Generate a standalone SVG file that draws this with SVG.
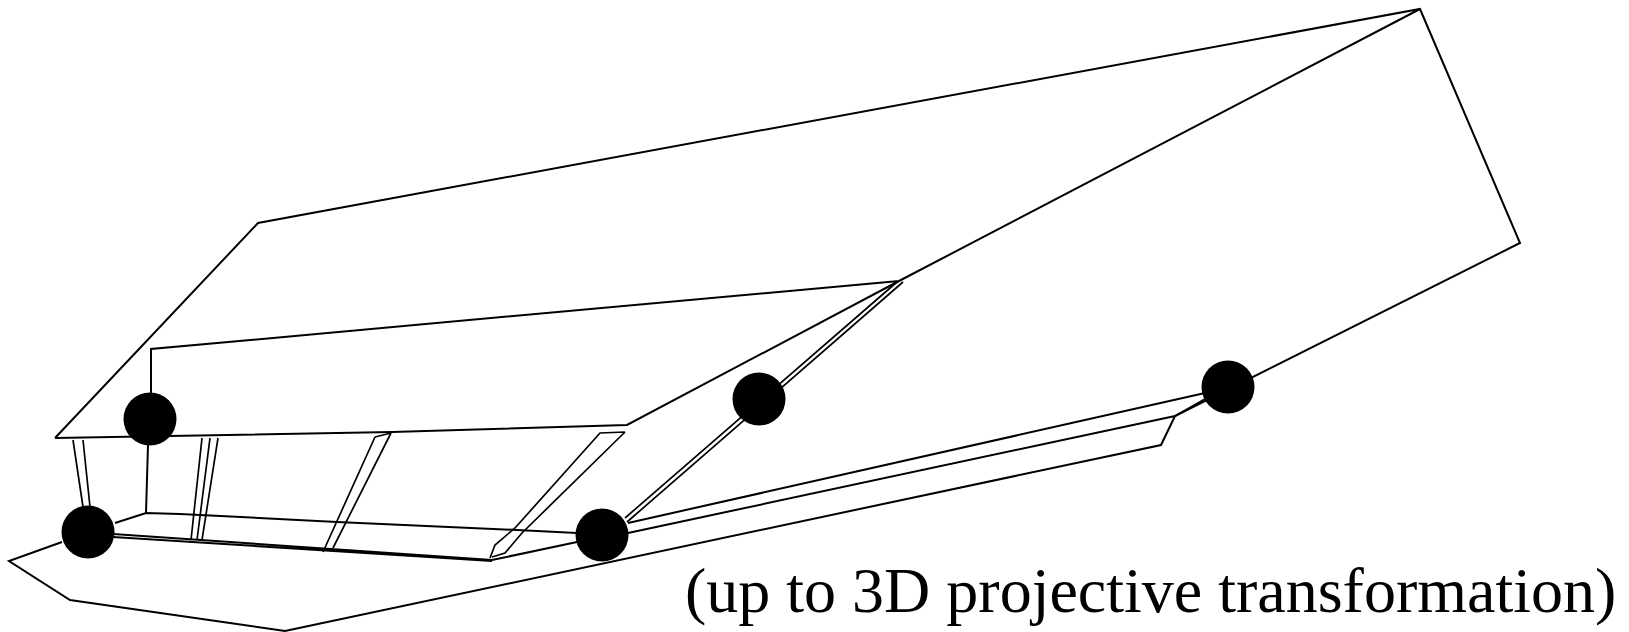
<svg xmlns="http://www.w3.org/2000/svg" width="1629" height="632" viewBox="0 0 1629 632">
<style>
.l{fill:none;stroke:#000;stroke-width:2;stroke-linejoin:miter}
.t{stroke-width:1.7}
.d{fill:#000}
text{font-family:"Liberation Serif","Times New Roman",serif;font-size:64px;fill:#000}
</style>
<rect width="1629" height="632" fill="#fff"/>
<g id="connectors">
<path class="l" d="M55 438L258 223L1420 9L1520 243L1175 416L1161 445L285 631L70 600L9 561L62 542"/>
<path class="l" d="M148 445L146 513M151 395V349L899 281M1420 9L899 281L627 425L392 432L55 438"/>
<path class="l" d="M115 523L146 513L180 514L337 522L517 530L577 533"/>
<path class="l" d="M113 534L492 560M113 537L492 561M492 560L577 542"/>
<path class="l" d="M628 523L1205 393M628 533L1175 416L1205 399"/>
<path class="l t" d="M73 440L83 507M83 440L90 507"/>
<path class="l t" d="M202 438L191 540M210 438L197 540M218 438L202 540"/>
<path class="l t" d="M375 437L323 552M391 433L333 548M375 437L391 433"/>
<path class="l t" d="M625 432L600 433L515 528L495 545L490 558M625 432L522 533L505 553L492 557"/>
<path class="l t" d="M625 518L897 282M627 522L903 282"/>
</g>
<g id="node-a"><circle class="d" cx="150" cy="419" r="26.5"/></g>
<g id="node-b"><circle class="d" cx="88" cy="532" r="26.5"/></g>
<g id="node-c"><circle class="d" cx="602" cy="535" r="26.5"/></g>
<g id="node-d"><circle class="d" cx="759" cy="399" r="26.5"/></g>
<g id="node-e"><circle class="d" cx="1228" cy="387" r="26.5"/></g>
<text x="685" y="612">(up to 3D projective transformation)</text>
</svg>
